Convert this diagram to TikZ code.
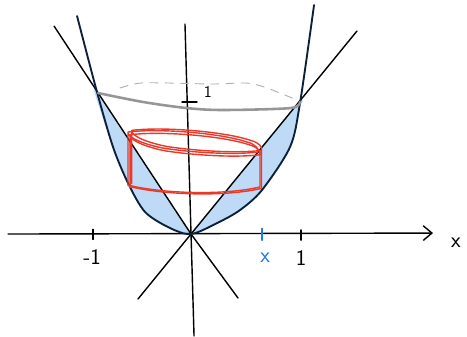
\documentclass[tikz,border=0pt]{standalone}
\usetikzlibrary{arrows.meta}
\definecolor{sliceblue}{RGB}{191,218,247}
\definecolor{markblue}{RGB}{30,123,230}
\definecolor{boxred}{RGB}{232,57,42}
\definecolor{rimgray}{RGB}{150,150,150}
\definecolor{curvenavy}{RGB}{12,32,58}
\begin{document}
\begin{tikzpicture}[x=3.12cm, y=4.08cm, line cap=round, line join=round,
    every node/.style={font=\sffamily\fontsize{19}{21}\selectfont},
    tick/.style={line width=1.1pt},
    boxline/.style={boxred, line width=1.2pt}]
  \useasboundingbox (-1.837,-0.757) rectangle (2.654,1.721);

  % shaded slices between the lines and the curve
  \fill[sliceblue] (-0.904,1.044) plot[smooth] coordinates {(-0.904,1.044) (-0.75,0.64) (-0.606,0.375) (-0.442,0.162) (-0.202,0.044) (0,0)} -- cycle;
  \draw[sliceblue, line width=3pt] (-0.92,1.06) -- (-0.80,0.78);
  \fill[sliceblue] (0,0) plot[smooth] coordinates {(0,0) (0.247,0.079) (0.471,0.176) (0.683,0.324) (0.952,0.640) (1.048,0.963)} -- cycle;
  \draw[sliceblue, line width=3pt] (0.05,0.03) -- (1.06,0.98);

  % axes
  \coordinate (O) at (0,0);
  \draw[line width=1.2pt, -{Straight Barb[length=2.6mm, width=4.4mm]}] (-1.76,0) -- (2.327,0.007) coordinate (xend);
  \draw[line width=1.2pt] (-0.058,1.544) -- (O) -- (0.029,-0.75);

  % the two lines y = |x|
  \draw[line width=1.2pt] (-1.317,1.529) -- (O) -- (0.452,-0.471);
  \draw[line width=1.2pt] (1.596,1.493) -- (O) -- (-0.510,-0.478);

  % the curve
  \draw[curvenavy, line width=1.6pt] plot[smooth] coordinates {(-1.096,1.603) (-0.904,1.044) (-0.75,0.64) (-0.606,0.375) (-0.442,0.162) (-0.202,0.044) (0,0) (0.247,0.079) (0.471,0.176) (0.683,0.324) (0.952,0.640) (1.048,0.963) (1.183,1.684)};

  % rim at height 1
  \draw[rimgray!75, line width=0.8pt, dash pattern=on 7pt off 6pt] plot[smooth] coordinates {(-0.683,1.074) (-0.490,1.110) (-0.173,1.110) (0.212,1.103) (0.538,1.110) (0.731,1.074) (1.019,0.985)};
  \draw[rimgray, line width=2.2pt] plot[smooth] coordinates {(-0.894,1.037) (-0.462,0.971) (-0.038,0.926) (0.308,0.912) (0.952,0.926) (1.048,0.971)};

  % cross section box, traced a few times
  \foreach \dx/\dy in {0/0, 0.02/-0.02, 0.035/0.012} {
    \draw[boxline, shift={(\dx,\dy)}] (-0.606,0.36) -- (-0.606,0.75)
      .. controls (-0.30,0.78) and (0.30,0.74) .. (0.54,0.676)
      .. controls (0.62,0.66) and (0.65,0.63) .. (0.644,0.603)
      .. controls (0.40,0.58) and (0.00,0.60) .. (-0.27,0.632)
      .. controls (-0.45,0.66) and (-0.58,0.70) .. (-0.606,0.74);
  }
  \foreach \dx/\dy in {0/0, 0.015/-0.01} {
    \draw[boxline, shift={(\dx,\dy)}] (-0.606,0.36)
      .. controls (-0.30,0.30) and (0.30,0.28) .. (0.663,0.346)
      -- (0.663,0.618);
  }

  % ticks and labels
  \draw[tick] (-0.942,-0.04) -- (-0.942,0.035) coordinate (mone);
  \draw[tick] (1.058,-0.045) -- (1.058,0.03) coordinate (one);
  \draw[tick, markblue, line width=1.6pt] (0.683,-0.045) -- (0.683,0.04) coordinate (xmark);
  \draw[tick] (-0.087,0.971) -- (0.058,0.971) coordinate (ymark);
  \node (xlab) at (2.548,-0.066) {x};
  \node (mlab) at (-0.952,-0.169) {-1};
  \node (olab) at (1.058,-0.176) {1};
  \node[markblue] (blab) at (0.712,-0.176) {x};
  \node[font=\sffamily\fontsize{14}{16}\selectfont] (ylab) at (0.163,1.044) {1};
\end{tikzpicture}
\end{document}
